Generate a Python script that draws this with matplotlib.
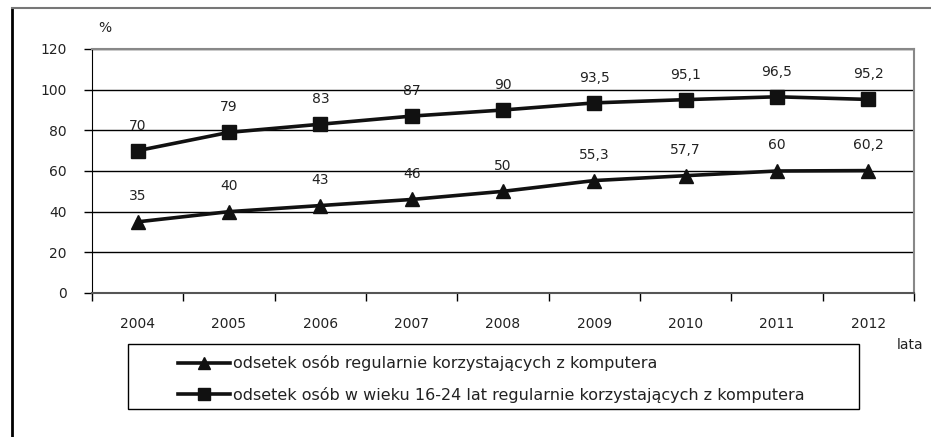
import matplotlib.pyplot as plt
from matplotlib.lines import Line2D
from matplotlib.patches import Rectangle

plt.rcParams["font.family"] = ["DejaVu Sans"]

years = ["2004", "2005", "2006", "2007", "2008", "2009", "2010", "2011", "2012"]
all_users = [35, 40, 43, 46, 50, 55.3, 57.7, 60, 60.2]
young_users = [70, 79, 83, 87, 90, 93.5, 95.1, 96.5, 95.2]
label_all = "odsetek osób regularnie korzystających z komputera"
label_young = "odsetek osób w wieku 16-24 lat regularnie korzystających z komputera"

W, H = 931, 437
TEXT = "#222222"
FS = 10


def fmt(v):
    """Polish decimal comma."""
    s = f"{v:g}"
    return s.replace(".", ",")


fig = plt.figure(figsize=(W / 100, H / 100), dpi=100)
ax = fig.add_axes([92 / W, 1 - 293 / H, (914 - 92) / W, (293 - 49) / H])

x = list(range(len(years)))
ax.plot(x, young_users, color="#111111", lw=2.6, marker="s", ms=10,
        zorder=3, clip_on=False)
ax.plot(x, all_users, color="#111111", lw=2.6, marker="^", ms=10,
        zorder=3, clip_on=False)

for xi, v in zip(x, young_users):
    ax.annotate(fmt(v), (xi, v), xytext=(0, 18), textcoords="offset points",
                ha="center", va="center", fontsize=FS, color=TEXT)
for xi, v in zip(x, all_users):
    ax.annotate(fmt(v), (xi, v), xytext=(0, 18.5), textcoords="offset points",
                ha="center", va="center", fontsize=FS, color=TEXT)

ax.set_xlim(-0.5, len(years) - 0.5)
ax.set_ylim(0, 120)
ax.set_yticks(range(0, 121, 20))
ax.set_xticks([i - 0.5 for i in range(len(years) + 1)])
ax.set_xticklabels([])
ax.set_xticks(x, minor=True)
ax.set_xticklabels(years, minor=True)
ax.tick_params(axis="x", which="major", length=6, width=1, direction="out")
ax.tick_params(axis="x", which="minor", length=0, pad=17, labelsize=FS,
               labelcolor=TEXT)
ax.tick_params(axis="y", length=6, width=1, pad=12, labelsize=FS,
               labelcolor=TEXT)

ax.grid(axis="y", color="black", lw=1)
ax.set_axisbelow(True)
for side in ["top", "right"]:
    ax.spines[side].set_color("#888888")
    ax.spines[side].set_linewidth(1.5)
ax.spines["left"].set_color("black")
ax.spines["bottom"].set_color("#555555")
ax.spines["bottom"].set_linewidth(1.5)

fig.text(105 / W, 1 - 28 / H, "%", ha="center", va="center",
         fontsize=FS, color=TEXT)
fig.text(910 / W, 1 - 345 / H, "lata", ha="center", va="center",
         fontsize=FS, color=TEXT)

# outer frame fragments
fig.add_artist(Line2D([12 / W, 12 / W], [0, 1 - 8 / H], color="black", lw=2))
fig.add_artist(Line2D([12 / W, 1], [1 - 8 / H, 1 - 8 / H], color="#777777",
                      lw=1.5))

# legend box
fig.add_artist(Rectangle((128 / W, 1 - 409 / H), (859 - 128) / W,
                         (409 - 344) / H, transform=fig.transFigure,
                         fill=False, edgecolor="black", lw=1))
handles = [
    Line2D([], [], color="#111111", lw=2.6, marker="^", ms=8),
    Line2D([], [], color="#111111", lw=2.6, marker="s", ms=8),
]
fig.legend(handles, [label_all, label_young], loc="upper left",
           bbox_to_anchor=(172 / W, 1 - 349 / H), frameon=False,
           fontsize=11.5, handlelength=3.2, handletextpad=0.2,
           labelspacing=0.95, labelcolor=TEXT, borderaxespad=0)

fig.savefig("out.png", dpi=100)
